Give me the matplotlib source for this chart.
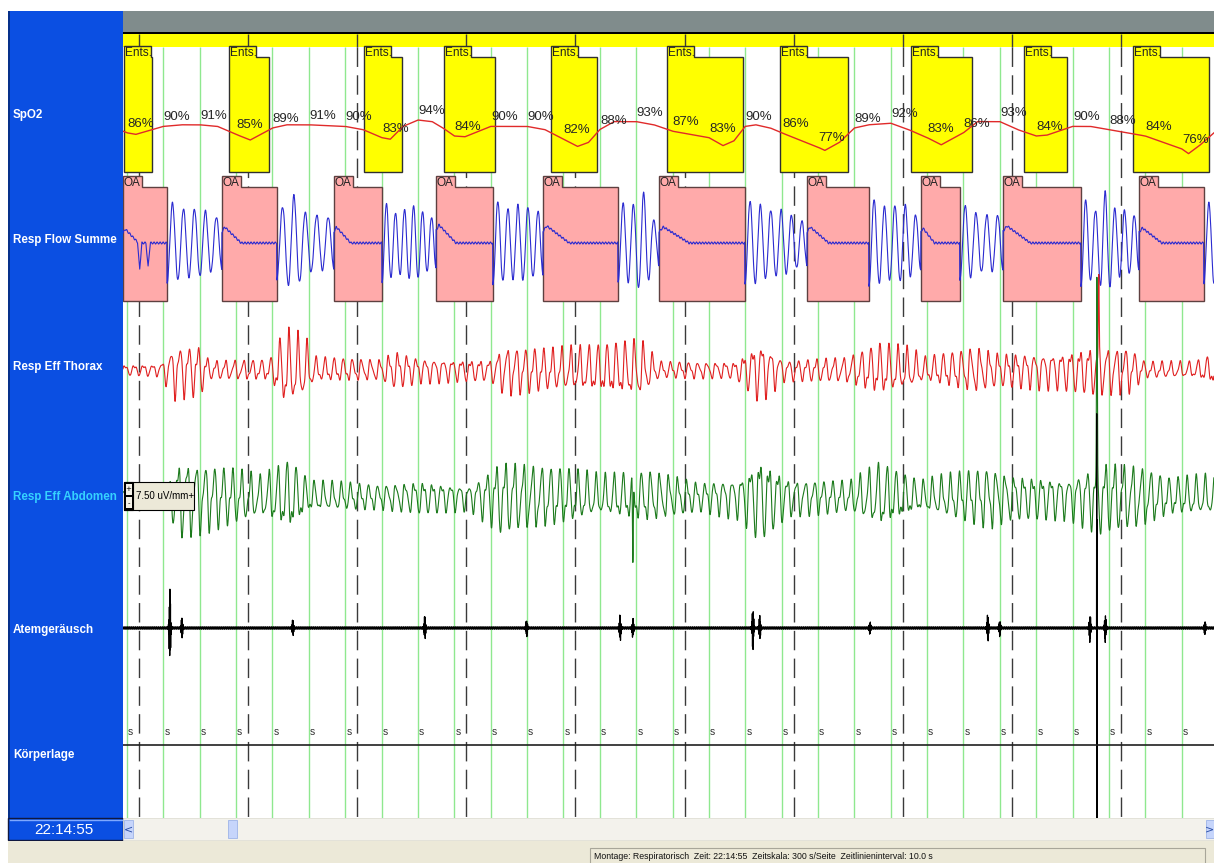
import numpy as np
import matplotlib.pyplot as plt
from matplotlib import font_manager
from matplotlib.patches import Rectangle, Polygon

W, H = 1214, 863
PAGE = 300.0  # seconds per page

_names = {f.name for f in font_manager.fontManager.ttflist}
NARROW = 'Liberation Sans Narrow' if 'Liberation Sans Narrow' in _names else 'Liberation Sans'

# time grid (s)
grid_step, grid_offset = 10.0, 1.1
dash_step, dash_offset = 30.0, 4.4

# scored events (s)
desat_start = [0.3, 29.1, 66.3, 88.3, 117.7, 149.6, 180.6, 216.7, 247.7, 277.7]
desat_end = [8.0, 40.1, 76.7, 102.3, 130.3, 170.5, 199.3, 233.4, 259.6, 298.6]
oa_start = [0.0, 27.2, 58.0, 86.1, 115.5, 147.4, 188.1, 219.4, 242.0, 279.4]
oa_end = [12.1, 42.3, 71.2, 101.7, 136.1, 171.0, 205.1, 230.1, 263.4, 297.2]

# SpO2 (%) printed on every time line
spo2_labels = [86, 90, 91, 85, 89, 91, 90, 83, 94, 84, 90, 90, 82, 88, 93,
               87, 83, 90, 86, 77, 89, 92, 83, 86, 93, 84, 90, 88, 84, 76]
# SpO2 trace between the printed values
spo2_t = [0.0, 3.5, 8.0, 16.0, 26.0, 35.0, 45.0, 66.0, 73.5, 77.0, 85.0, 88.0,
          94.0, 116.0, 125.0, 128.0, 135.0, 146.0, 165.0, 168.0, 174.0, 178.0,
          193.0, 197.0, 205.0, 216.0, 225.0, 235.0, 246.0, 254.0, 266.0,
          293.0, 296.0, 300.0]
spo2_v = [87, 85, 88, 91, 90, 81.5, 91, 88, 82, 90, 93, 89,
          83.5, 88, 77.5, 80, 93, 91, 78, 81, 91, 89,
          75, 80, 91, 88, 78.5, 93, 88, 84.5, 90,
          73, 78, 86]

# Resp Flow: bump at apnea onset and breath amplitudes (px) between apneas
oa_bump = [14, 16, 16, 18, 17, 16, 16, 15, 17, 15]
flow_breaths = [
    [40, 34, 34, 32, 26],
    [36, 48, 30, 28, 26],
    [40, 30, 34, 38, 32, 26],
    [42, 34, 38, 36, 32],
    [40, 38, 52, 22],
    [42, 38, 33, 33, 28, 22],
    [44, 36, 38, 38, 28],
    [38, 30, 28, 28],
    [44, 32, 52, 34, 33, 28],
    [40],
]
flow_dip_t = [4.6, 6.9]
flow_dip_a = [-26, -24]

# effort envelopes (px half-amplitude)
thorax_t = [0, 10.2, 14.3, 21.2, 23.9, 40.4, 44.5, 50, 52.8, 70.7, 74.8, 81.7,
            100.9, 105, 117.4, 125.7, 142.2, 147.6, 168.3, 175.1, 182, 198.5,
            208.1, 216.4, 220.5, 234.3, 241.1, 257.6, 267.3, 276.9, 281, 294.7, 300]
thorax_a = [5, 6, 26, 24, 9, 10, 38, 30, 12, 10, 18, 12,
            10, 24, 20, 22, 28, 8, 8, 30, 10, 12,
            25, 20, 12, 22, 16, 18, 24, 22, 8, 8, 15]
abdomen_t = [0, 11.5, 15.7, 29.4, 37.7, 45.9, 51.4, 70.7, 81.7, 95.4, 103.7,
             120.2, 131.2, 144.9, 158.6, 169.6, 175.1, 183.4, 199.9, 208.1,
             219.1, 238.4, 243.9, 260.4, 268.6, 279.6, 287.9, 300]
abdomen_a = [8, 10, 38, 28, 20, 35, 15, 12, 16, 12, 35,
             28, 20, 25, 14, 20, 42, 18, 15, 32,
             15, 30, 22, 20, 35, 30, 18, 20]
thorax_spike_t, thorax_spike_a = [268.3], [78]
abdomen_spike_t, abdomen_spike_a = [140.2, 267.8], [-88, 190]

# breathing sound bursts (px)
snore_t = [12.9, 16.2, 46.7, 83.0, 111.0, 136.7, 140.2, 173.2, 175.1, 205.4,
           237.8, 241.1, 265.9, 270.1, 297.5]
snore_a = [38, 10, 8, 12, 8, 14, 10, 22, 12, 6, 14, 8, 14, 14, 6]
# movement artefact in the sound channel: time (s), excursion up / down (px)
artefact_t, artefact_up, artefact_down = 267.8, 215, 190

channels = ['SpO2', 'Resp Flow Summe', 'Resp Eff Thorax', 'Resp Eff Abdomen',
            'Atemgeräusch', 'Körperlage']
channel_y = [115, 240, 367, 497, 630, 755]
channel_fg = ['white', 'white', 'white', '#35d2ff', 'white', 'white']

# ---- layout (pixels)
X0, TOP, BOT = 123, 11, 818
PX_PER_S = (W - X0) / PAGE
Y_FLOW, Y_THOR, Y_ABD, Y_SND, Y_POS = 243, 370, 497, 628, 745


def spo2_y(v):
    return 120 + (94 - np.asarray(v, float)) * 1.6


fig = plt.figure(figsize=(W / 100, H / 100), dpi=100)
fig.patch.set_facecolor('white')

# window chrome in pixel coordinates
ui = fig.add_axes([0, 0, 1, 1], zorder=0)
ui.set_xlim(0, W)
ui.set_ylim(H, 0)
ui.axis('off')
ui.add_patch(Rectangle((8, TOP), X0 - 8, BOT - TOP, fc='#0b4fe2', ec='none'))
ui.add_patch(Rectangle((8, TOP), 2, 840 - TOP, fc='#06308a', ec='none'))
for name, y, c in zip(channels, channel_y, channel_fg):
    ui.text(13, y, name, color=c, fontsize=8.4, family=NARROW, fontweight='bold',
            va='center', ha='left')
ui.add_patch(Rectangle((8, BOT), X0 - 8, 22, fc='#0b4fe2', ec='#101840', lw=1))
ui.plot([10, X0 - 1], [BOT + 1.5, BOT + 1.5], color='#7fa8ff', lw=1)
ui.text(64, 830, '22:14:55', color='white', fontsize=11, family=NARROW,
        ha='center', va='center')
# scrollbar
ui.add_patch(Rectangle((X0, BOT), W - X0, 22, fc='#f3f2ec', ec='#e0ded4', lw=0.6))
ui.add_patch(Rectangle((X0 + 1, BOT + 2), 9, 18, fc='#c6d5fb', ec='#9db4e8', lw=0.6))
ui.text(X0 + 5.5, BOT + 11, '<', color='#2a4fa8', fontsize=8, ha='center', va='center')
ui.add_patch(Rectangle((228, BOT + 2), 9, 18, fc='#c6d5fb', ec='#9db4e8', lw=0.6))
ui.add_patch(Rectangle((W - 8, BOT + 2), 8, 18, fc='#c6d5fb', ec='#9db4e8', lw=0.6))
ui.text(W - 4, BOT + 11, '>', color='#2a4fa8', fontsize=8, ha='center', va='center')
# status bar
ui.add_patch(Rectangle((8, 841), W - 8, H - 841, fc='#ece9d8', ec='none'))
ui.add_patch(Rectangle((590, 848), 615, 16, fc='#ece9d8', ec='#a8a699', lw=0.8))
ui.text(594, 856.5, 'Montage: Respiratorisch  Zeit: 22:14:55  Zeitskala: 300 s/Seite  '
        'Zeitlinieninterval: 10.0 s', fontsize=6.3, family=NARROW,
        ha='left', va='center', color='#111111')

# signal area: x in seconds, y in pixels
ax = fig.add_axes([X0 / W, 1 - BOT / H, (W - X0) / W, (BOT - TOP) / H], zorder=1)
ax.set_xlim(0, PAGE)
ax.set_ylim(BOT, TOP)
ax.axis('off')
ax.add_patch(Rectangle((0, TOP), PAGE, BOT - TOP, fc='white', ec='none', zorder=0))
ax.axhspan(TOP, 32, color='#808c8c', lw=0, zorder=0.5)
ax.axhspan(32, 34, color='black', lw=0, zorder=0.5)
ax.axhspan(34, 47, color='#ffff00', lw=0, zorder=0.5)

grid_t = np.arange(grid_offset, PAGE, grid_step)
dash_t = np.arange(dash_offset, PAGE, dash_step)
ax.vlines(grid_t, 47, BOT, color='#8fe88f', lw=1.0, zorder=1)
ax.vlines(dash_t, 47, BOT, color='#3a3a3a', lw=1.0, linestyles=(0, (14, 6)), zorder=1)
ax.vlines(dash_t, 34, 47, color='#3a3a3a', lw=1.0, zorder=1)


def event_box(s, e, top, tab_bot, bot, tab_px, fc, ec, label):
    tw = tab_px / PX_PER_S
    pts = [(s, top), (s + tw, top), (s + tw, tab_bot), (e, tab_bot), (e, bot), (s, bot)]
    ax.add_patch(Polygon(pts, closed=True, fc=fc, ec=ec, lw=1.0, zorder=2))
    ax.text(s + 0.2, (top + tab_bot) / 2 + 1, label, fontsize=8.5, family=NARROW,
            ha='left', va='center', color='#222222', zorder=4)


for s, e in zip(desat_start, desat_end):
    event_box(s, e, 46, 57, 172, 27, '#ffff00', '#303030', 'Ents.')
for s, e in zip(oa_start, oa_end):
    event_box(s, e, 176, 187, 301, 19, '#ffaaaa', '#5e4040', 'OA')

t = np.arange(0, PAGE, 0.05)

# SpO2 trace and printed values
st = np.concatenate([spo2_t, grid_t])
sv = np.concatenate([spo2_v, spo2_labels])
order = np.argsort(st)
ax.plot(t, spo2_y(np.interp(t, st[order], sv[order])), color='#e02a2a', lw=1.0, zorder=3)
for gt, v in zip(grid_t, spo2_labels):
    ax.text(gt + 0.1, spo2_y(v) - 3, f'{v}%', fontsize=9.5, family=NARROW,
            ha='left', va='bottom', color='#262626', zorder=4)

# Resp Flow
flow = np.zeros_like(t)
for s, e, b in zip(oa_start, oa_end, oa_bump):
    m = (t >= s) & (t < e)
    d = e - s
    flow[m] = np.interp(t[m], [s, s + 0.05 * d, s + 0.35 * d, e], [0.7 * b, b, 0, 0])
seg_start = oa_end
seg_end = oa_start[1:] + [PAGE]
for s, e, amps in zip(seg_start, seg_end, flow_breaths):
    n = len(amps)
    m = (t >= s) & (t < e)
    centres = s + (np.arange(n) + 0.5) * (e - s) / n
    env = np.interp(t[m], centres, amps)
    flow[m] = -env * np.cos(2 * np.pi * (t[m] - s) / (e - s) * n)
for dt, da in zip(flow_dip_t, flow_dip_a):
    flow += da * np.clip(1 - np.abs(t - dt) / 0.6, 0, None)
flow += 1.0 * np.sin(2 * np.pi * 1.2 * t)
ax.plot(t, Y_FLOW - flow, color='#2b2bd0', lw=0.8, zorder=3)


def effort(knot_t, knot_a, period, phase, spike_t, spike_a):
    env = np.interp(t, knot_t, knot_a)
    ph = 2 * np.pi * t / period + phase
    wave = np.sin(ph) + 0.35 * np.sin(2.03 * ph + 1.0) + 0.12 * np.sin(2 * np.pi * 1.17 * t)
    sig = env * wave / 1.2
    for a_t, a_a in zip(spike_t, spike_a):
        sig += a_a * np.exp(-((t - a_t) / 0.15) ** 2)
    return sig


thorax = effort(thorax_t, thorax_a, 2.5, 0.0, thorax_spike_t, thorax_spike_a)
ax.plot(t, Y_THOR - thorax, color='#e02020', lw=0.8, zorder=3)
abdomen = effort(abdomen_t, abdomen_a, 2.5, 1.3, abdomen_spike_t, abdomen_spike_a)
ax.plot(t, Y_ABD - abdomen, color='#1c7a1c', lw=0.8, zorder=3)

# breathing sound
snd_env = 1.0 + np.zeros_like(t)
for bt, ba in zip(snore_t, snore_a):
    snd_env += ba * np.exp(-((t - bt) / 0.25) ** 2)
sound = snd_env * np.sin(2 * np.pi * 7.3 * t + 0.4)
sound += np.interp(t, artefact_t + np.array([-0.1, -0.05, 0.0, 0.05, 0.1]),
                   [0, artefact_up, -artefact_down, 0.5 * artefact_up, 0])
ax.plot(t, Y_SND - sound, color='black', lw=0.9, zorder=3)

# body position
ax.hlines(Y_POS, 0, PAGE, color='#202020', lw=1.2, zorder=3)
for gt in grid_t:
    ax.text(gt + 0.3, Y_POS - 8, 's', fontsize=7.5, family=NARROW,
            ha='left', va='bottom', color='#333333', zorder=4)

# amplitude scale widget
fg = fig.add_axes([0, 0, 1, 1], zorder=2)
fg.set_xlim(0, W)
fg.set_ylim(H, 0)
fg.axis('off')
fg.patch.set_alpha(0)
fg.add_patch(Rectangle((124, 482), 70, 28, fc='#ece9d8', ec='black', lw=0.8))
fg.add_patch(Rectangle((124, 482), 9, 28, fc='black', ec='black', lw=0.8))
fg.add_patch(Rectangle((125.5, 484), 6, 11, fc='#f4f2e8', ec='none'))
fg.add_patch(Rectangle((125.5, 497), 6, 11, fc='#f4f2e8', ec='none'))
fg.text(128.5, 489, '+', fontsize=5, ha='center', va='center')
fg.text(128.5, 503, '-', fontsize=5, ha='center', va='center')
fg.text(136, 496, '7.50 uV/mm+', fontsize=7, family=NARROW, ha='left', va='center')

fig.savefig('out.png', dpi=100)
